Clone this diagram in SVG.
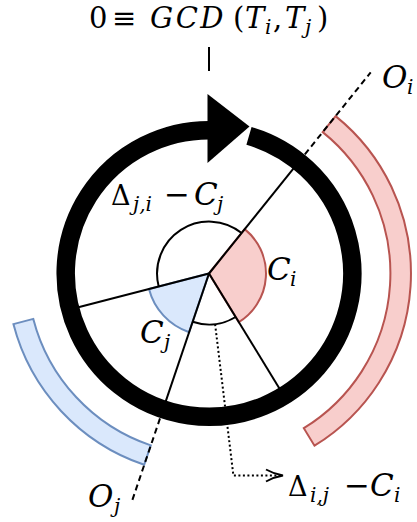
<svg xmlns="http://www.w3.org/2000/svg" width="417" height="522" viewBox="0 0 417 522">
<style>
.t{font-family:"DejaVu Serif","Liberation Serif",serif;font-size:31px;fill:#000}
.ttl{font-size:29px}
.it{font-style:italic}
.sub{font-size:20px}
.dl{font-size:27px}
.ln{stroke:#000;stroke-width:2;fill:none}
.dash{stroke:#000;stroke-width:2;fill:none;stroke-dasharray:6 4}
.dot{stroke:#000;stroke-width:2;fill:none;stroke-dasharray:2 2.5}
.red{fill:#f8cecc;stroke:#b85450;stroke-width:2}
.blue{fill:#dae8fc;stroke:#6c8ebf;stroke-width:2}
</style>
<g id="bands">
<path id="band-i" class="red" d="M335.6,116.1 A202,202 0 0 1 314.5,445.7 L303.8,428.2 A181.5,181.5 0 0 0 322.7,132.1 Z"/>
<path id="band-j" class="blue" d="M144.2,464.8 A202,202 0 0 1 13.4,324.1 L33.3,318.9 A181.5,181.5 0 0 0 150.8,445.4 Z"/>
</g>
<g id="sectors">
<path id="sector-i" class="red" d="M209,273.5 L244.7,229.1 A57,57 0 0 1 238.8,322.1 Z"/>
<path id="sector-j" class="blue" d="M209,273.5 L189.1,332.2 A62,62 0 0 1 149.0,289.0 Z"/>
<path id="arc-delta-ji" class="ln" d="M158.7,286.5 A52,52 0 0 1 241.6,233.0"/>
<path id="arc-delta-ij" class="ln" d="M235.6,317.0 A51,51 0 0 1 192.6,321.8"/>
</g>
<g id="connectors">
<line class="ln" x1="209" y1="273.5" x2="298.6" y2="162.1"/>
<line class="ln" x1="209" y1="273.5" x2="283.7" y2="395.4"/>
<line class="ln" x1="209" y1="273.5" x2="163.2" y2="408.9"/>
<line class="ln" x1="209" y1="273.5" x2="70.6" y2="309.3"/>
<line class="dash" x1="298.6" y1="162.1" x2="370.7" y2="72.4"/>
<line class="dash" x1="163.2" y1="408.9" x2="132.4" y2="499.9"/>
<polyline class="dot" points="215.1,324.1 233.4,475.5 281,475.5"/>
<path class="ln" d="M266,469.5 Q274,474 283,475.5 Q274,477 266,481.5"/>
<line class="ln" x1="209" y1="47" x2="209" y2="71"/>
</g>
<g id="cycle">
<path d="M248.98,135.89 A143.3,143.3 0 1 1 209,130.2" fill="none" stroke="#000" stroke-width="18.5"/>
<polygon points="207.5,94 249.5,126.5 207.5,163" fill="#000"/>
</g>
<g id="labels">
<text class="t ttl" y="28"><tspan x="89">0</tspan><tspan x="112">≡</tspan><tspan x="150" class="it" style="letter-spacing:2.5px">GCD</tspan><tspan x="233">(</tspan><tspan x="245" class="it">T</tspan><tspan x="265" class="sub it" dy="6">i</tspan><tspan x="273" dy="-6">,</tspan><tspan x="285" class="it">T</tspan><tspan x="305" class="sub it" dy="6">j</tspan><tspan x="317" dy="-6">)</tspan></text>
<text class="t it" y="88"><tspan x="382">O</tspan><tspan x="407" class="sub" dy="6">i</tspan></text>
<text class="t it" y="507"><tspan x="88">O</tspan><tspan x="114" class="sub" dy="6">j</tspan></text>
<text class="t it" y="280"><tspan x="267">C</tspan><tspan x="290" class="sub" dy="6">i</tspan></text>
<text class="t it" y="343"><tspan x="140">C</tspan><tspan x="164" class="sub" dy="6">j</tspan></text>
<text class="t" y="205"><tspan x="111" class="dl">Δ</tspan><tspan x="133" class="sub it" dy="6">j,i</tspan><tspan x="164" dy="-6">−</tspan><tspan x="194" class="it">C</tspan><tspan x="217" class="sub it" dy="6">j</tspan></text>
<text class="t" y="496"><tspan x="288" class="dl">Δ</tspan><tspan x="310" class="sub it" dy="6">i,j</tspan><tspan x="344" dy="-6">−</tspan><tspan x="370" class="it">C</tspan><tspan x="394" class="sub it" dy="6">i</tspan></text>
</g>
</svg>
